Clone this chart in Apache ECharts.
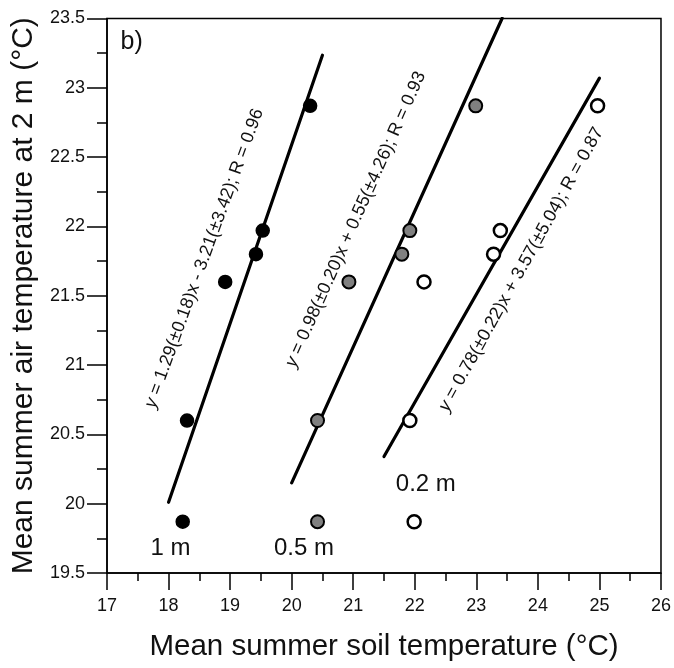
<!DOCTYPE html>
<html>
<head>
<meta charset="utf-8">
<title>Air vs soil temperature</title>
<script src="https://cdn.jsdelivr.net/npm/echarts@6/dist/echarts.min.js"></script>
<style>
  html, body { margin: 0; padding: 0; background: #fff; }
  #chart { width: 674px; height: 668px; }
</style>
</head>
<body>
<div id="chart"></div>
<script>
// Mean summer air temperature at 2 m (same for every soil depth)
const airTemp = [19.87, 20.60, 21.60, 21.80, 21.97, 22.87];
// Mean summer soil temperature at each depth
const soil1m  = [18.23, 18.30, 18.92, 19.42, 19.53, 20.30];
const soil05m = [20.42, 20.42, 20.93, 21.79, 21.92, 22.99];
const soil02m = [21.99, 21.92, 22.15, 23.28, 23.39, 24.97];

// Linear fits: slope, intercept and x extent of each drawn line
const fit1m  = { slope: 1.29, intercept: -3.21, from: 18.0, to: 20.5 };
const fit05m = { slope: 0.98, intercept: 0.55, from: 20.0, to: 23.42 };
const fit02m = { slope: 0.78, intercept: 3.57, from: 21.5, to: 25.0 };

const eq1m  = '{i|y} = 1.29(±0.18)x - 3.21(±3.42); R = 0.96';
const eq05m = '{i|y} = 0.98(±0.20)x + 0.55(±4.26); R = 0.93';
const eq02m = '{i|y} = 0.78(±0.22)x + 3.57(±5.04); R = 0.87';

const xTicks = { min: 17, max: 26, interval: 1 };
const yTicks = { min: 19.5, max: 23.5, interval: 0.5 };

const FONT = 'Liberation Sans, Arial, Helvetica, sans-serif';
const INK = '#111';

function pairs(xs, ys) { return xs.map((x, i) => [x, ys[i]]); }
function fitLine(f) {
  return [[f.from, f.slope * f.from + f.intercept], [f.to, f.slope * f.to + f.intercept]];
}

const chart = echarts.init(document.getElementById('chart'), null, { renderer: 'canvas' });

const lineStyle = { color: '#000', width: 3.2, cap: 'round' };

function fitSeries(f) {
  return {
    type: 'line', data: fitLine(f), symbol: 'none', silent: true,
    lineStyle: lineStyle, z: 2, animation: false
  };
}

function pointSeries(xs, fill, border) {
  return {
    type: 'scatter', data: pairs(xs, airTemp), symbol: 'circle', symbolSize: 13,
    itemStyle: { color: fill, borderColor: '#000', borderWidth: border, opacity: 1 },
    z: 3, silent: true, animation: false
  };
}

function textSeries(x, y, text, size, rotate, rich) {
  return {
    type: 'scatter', data: [[x, y]], symbolSize: 0, silent: true, z: 4, animation: false,
    itemStyle: { opacity: 1 },
    label: {
      show: true, position: 'inside', formatter: text, rotate: rotate,
      align: 'center', verticalAlign: 'middle', opacity: 1,
      color: INK, fontFamily: FONT, fontSize: size,
      rich: rich || {}
    }
  };
}

const eqRich = { i: { fontStyle: 'italic', fontFamily: FONT, fontSize: 18, color: INK } };

chart.setOption({
  backgroundColor: '#fff',
  animation: false,
  grid: {
    left: 107, right: 11, top: 18.5, bottom: 95,
    show: true, borderColor: '#000', borderWidth: 1.5, backgroundColor: 'transparent'
  },
  xAxis: {
    type: 'value', min: xTicks.min, max: xTicks.max, interval: xTicks.interval,
    name: 'Mean summer soil temperature (°C)', nameLocation: 'middle', nameGap: 59,
    nameTextStyle: { fontFamily: FONT, fontSize: 29.5, color: INK },
    axisLine: { show: true, onZero: false, lineStyle: { color: '#000', width: 1.5 } },
    axisTick: { show: true, inside: false, length: 17, lineStyle: { color: '#000', width: 1.5 } },
    minorTick: { show: true, splitNumber: 2, length: 8, lineStyle: { color: '#000', width: 1.5 } },
    axisLabel: { margin: 24, fontFamily: FONT, fontSize: 18, color: INK },
    splitLine: { show: false }
  },
  yAxis: {
    type: 'value', min: yTicks.min, max: yTicks.max, interval: yTicks.interval,
    name: 'Mean summer air temperature at 2 m (°C)', nameLocation: 'middle', nameGap: 66,
    nameTextStyle: { fontFamily: FONT, fontSize: 30, color: INK },
    axisLine: { show: true, onZero: false, lineStyle: { color: '#000', width: 1.5 } },
    axisTick: { show: true, inside: false, length: 20, lineStyle: { color: '#000', width: 1.5 } },
    minorTick: { show: true, splitNumber: 2, length: 10, lineStyle: { color: '#000', width: 1.5 } },
    axisLabel: { margin: 22, fontFamily: FONT, fontSize: 18, color: INK },
    splitLine: { show: false }
  },
  series: [
    fitSeries(fit1m), fitSeries(fit05m), fitSeries(fit02m),
    pointSeries(soil1m, '#000', 1.5),
    pointSeries(soil05m, '#808080', 2),
    pointSeries(soil02m, '#fff', 2.5),
    textSeries(18.58, 21.77, eq1m, 18, 70, eqRich),
    textSeries(21.04, 22.05, eq05m, 18, 66, eqRich),
    textSeries(23.73, 21.69, eq02m, 18, 61, eqRich),
    textSeries(17.40, 23.33, 'b)', 25, 0),
    textSeries(18.03, 19.68, '1 m', 24, 0),
    textSeries(20.20, 19.68, '0.5 m', 24, 0),
    textSeries(22.18, 20.14, '0.2 m', 24, 0)
  ]
});
</script>
</body>
</html>
